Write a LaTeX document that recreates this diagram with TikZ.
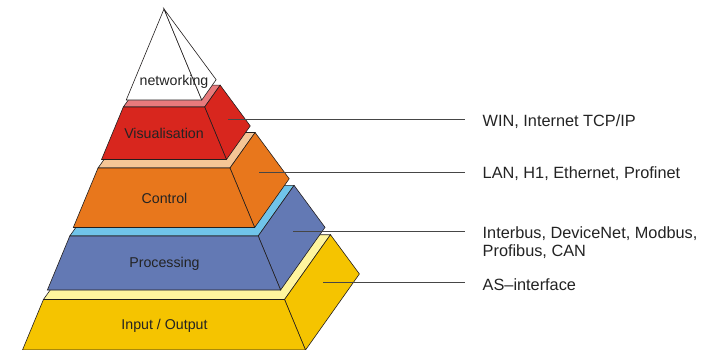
\documentclass[tikz,border=0pt]{standalone}
\usepackage{fontspec}
\setmainfont{Liberation Sans}
\definecolor{visred}{RGB}{216,38,30}
\definecolor{vispink}{RGB}{232,122,124}
\definecolor{ctlorange}{RGB}{232,119,28}
\definecolor{ctlpeach}{RGB}{245,198,150}
\definecolor{problue}{RGB}{99,121,180}
\definecolor{prolight}{RGB}{112,196,234}
\definecolor{ioyellow}{RGB}{245,196,0}
\definecolor{iolight}{RGB}{255,245,158}
\definecolor{edgedark}{RGB}{34,30,30}
\definecolor{leadgray}{RGB}{70,70,70}
\definecolor{txtdark}{RGB}{35,35,35}
\newcommand\pyrlayer[4]{%
  \draw[face, fill=#3] ({164-0.415*#1},{9+#1}) -- ({164+0.415*#1},{9+#1})
    -- ({164+0.573*#1},{9+0.777*#1}) -- ({164-0.257*#1},{9+0.777*#1}) -- cycle;
  \draw[face, fill=#4] ({164+0.415*#1},{9+#1}) -- ({164+0.573*#1},{9+0.777*#1})
    -- ({164+0.573*#2},{9+0.777*#2}) -- ({164+0.415*#2},{9+#2}) -- cycle;
  \draw[face, fill=#4] ({164-0.415*#1},{9+#1}) -- ({164+0.415*#1},{9+#1})
    -- ({164+0.415*#2},{9+#2}) -- ({164-0.415*#2},{9+#2}) -- cycle;
}
\begin{document}
\begin{tikzpicture}[x=1pt,y=-1pt,
  face/.style={draw=edgedark, line width=0.6pt, line join=miter},
  leader/.style={draw=leadgray, line width=0.8pt},
  layerlabel/.style={anchor=base, inner sep=0pt, text=txtdark, font=\fontsize{14.2}{17}\selectfont},
  buslabel/.style={anchor=base west, inner sep=0pt, text=txtdark, align=left, font=\fontsize{16.3}{18.4}\selectfont}]
\useasboundingbox (0,0) rectangle (715,349);
\clip (0,0) rectangle (715,349);
% layers, bottom to top
\pyrlayer{290.5}{341}{iolight}{ioyellow}
\pyrlayer{227}{281}{prolight}{problue}
\pyrlayer{159}{218.5}{ctlpeach}{ctlorange}
\pyrlayer{98}{150.5}{vispink}{visred}
% networking tip
\draw[face, fill=white] (164,9) -- ({164-0.415*91},100) -- ({164+0.415*91},100) -- cycle;
\draw[face, fill=white] (164,9) -- ({164+0.415*91},100) -- ({164+0.573*91},{9+0.777*91}) -- cycle;
% layer labels
\node[layerlabel] (lnet) at (174,85.5) {networking};
\node[layerlabel] (lvis) at (164,138.3) {Visualisation};
\node[layerlabel] (lctl) at (164.5,203.3) {Control};
\node[layerlabel] (lpro) at (164.5,267.3) {Processing};
\node[layerlabel] (lio) at (164.5,329) {Input / Output};
% leader lines
\coordinate (a1) at (228,119);   \coordinate (b1) at (465,119);
\coordinate (a2) at (259,172);   \coordinate (b2) at (465,172);
\coordinate (a3) at (293,231.5); \coordinate (b3) at (465,231.5);
\coordinate (a4) at (323,282);   \coordinate (b4) at (465,282);
\draw[leader] (a1) -- (b1);
\draw[leader] (a2) -- (b2);
\draw[leader] (a3) -- (b3);
\draw[leader] (a4) -- (b4);
% bus labels
\node[buslabel] (t1) at (482.5,126) {WIN, Internet TCP/IP};
\node[buslabel] (t2) at (482.5,178.3) {LAN, H1, Ethernet, Profinet};
\node[buslabel] (t3) at (482.5,256.7) {Interbus, DeviceNet, Modbus,\\Profibus, CAN};
\node[buslabel] (t4) at (482.5,290) {AS–interface};
\end{tikzpicture}
\end{document}
